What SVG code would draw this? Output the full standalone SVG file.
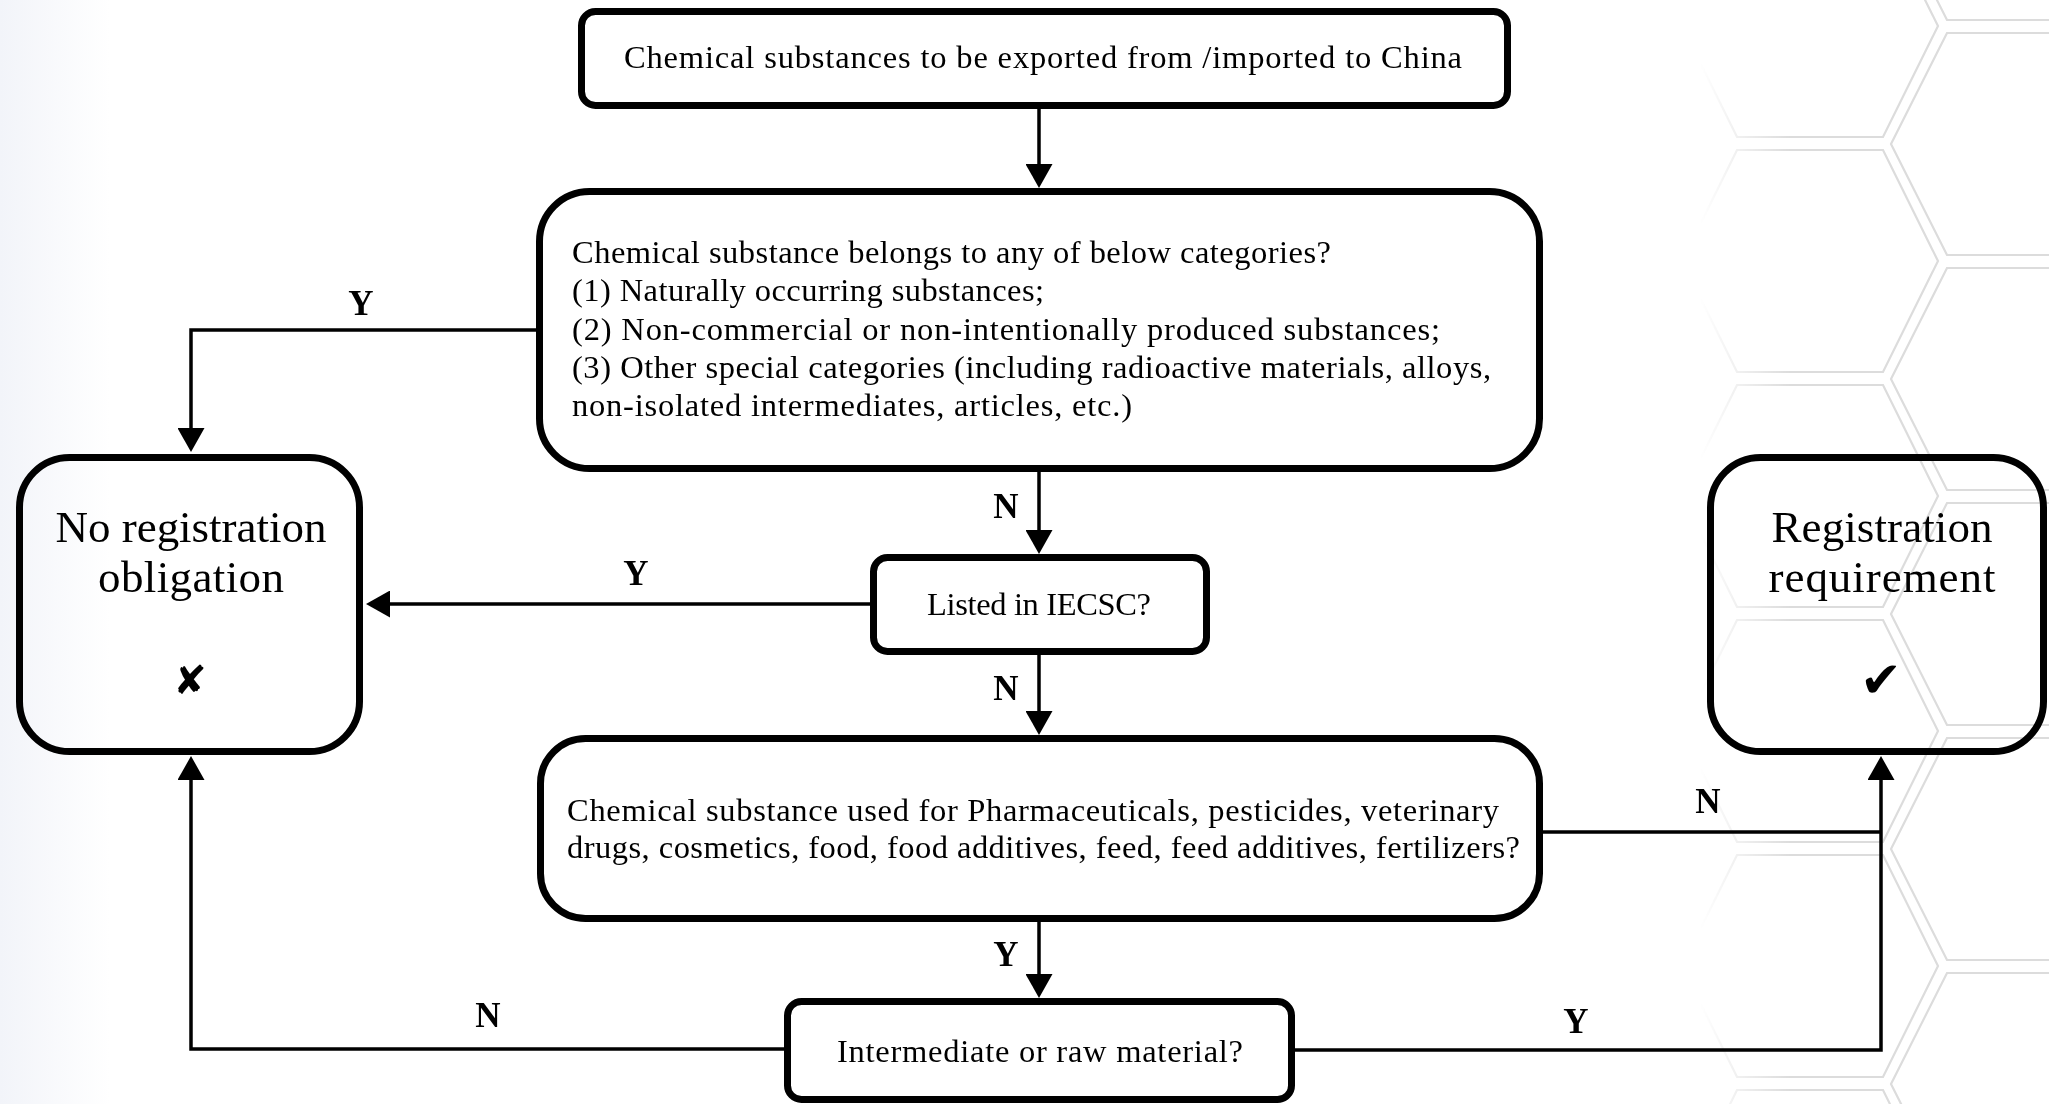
<svg xmlns="http://www.w3.org/2000/svg" width="2049" height="1104" viewBox="0 0 2049 1104">
<defs>
<style>
.box{fill:none;stroke:#000;stroke-width:7}
.t{font-family:"Liberation Serif","Times New Roman",serif;font-size:32.5px;fill:#000}
.big{font-family:"Liberation Serif","Times New Roman",serif;font-size:45px;fill:#000;text-anchor:middle}
.lbl{font-family:"Liberation Serif","Times New Roman",serif;font-size:35px;font-weight:bold;fill:#000;text-anchor:middle}
.sym{font-family:"DejaVu Sans",sans-serif;font-size:40px;fill:#000;text-anchor:middle}
.c{fill:none;stroke:#000;stroke-width:3.5}
.hex{fill:none;stroke:#dcdcdc;stroke-width:2.2}
</style>
<marker id="ah" viewBox="0 0 24 27" refX="20" refY="13.5" markerWidth="24" markerHeight="27" markerUnits="userSpaceOnUse" orient="auto">
<path d="M0,0 L24,13.5 L0,27 Z" fill="#000"/>
</marker>
<linearGradient id="lg" x1="0" y1="0" x2="1" y2="0">
<stop offset="0" stop-color="#f2f4f9"/>
<stop offset="1" stop-color="#ffffff"/>
</linearGradient>
<linearGradient id="hf" x1="1700" y1="0" x2="1790" y2="0" gradientUnits="userSpaceOnUse">
<stop offset="0" stop-color="#fff" stop-opacity="0"/>
<stop offset="1" stop-color="#fff" stop-opacity="1"/>
</linearGradient>
<mask id="hm" maskUnits="userSpaceOnUse" x="0" y="0" width="2049" height="1104">
<rect x="1600" y="0" width="449" height="1104" fill="url(#hf)"/>
</mask>
<polygon id="hA" points="1682,111 1737,0 1883,0 1938,111 1883,222 1737,222"/>
<polygon id="hB" points="1891,111 1947,0 2093,0 2148,111 2093,222 1947,222"/>
</defs>
<rect x="0" y="0" width="2049" height="1104" fill="#fff"/>
<rect x="0" y="0" width="110" height="1104" fill="url(#lg)"/>
<g id="background-hex" class="hex" mask="url(#hm)">
<use href="#hA" y="-85"/><use href="#hA" y="150"/><use href="#hA" y="385"/><use href="#hA" y="620"/><use href="#hA" y="855"/><use href="#hA" y="1090"/>
<use href="#hB" y="-202"/><use href="#hB" y="33"/><use href="#hB" y="268"/><use href="#hB" y="503"/><use href="#hB" y="738"/><use href="#hB" y="973"/>
</g>
<g id="connectors">
<path class="c" d="M1039,109 V184" marker-end="url(#ah)"/>
<path class="c" d="M1039,472 V550" marker-end="url(#ah)"/>
<path class="c" d="M1039,655 V731" marker-end="url(#ah)"/>
<path class="c" d="M1039,922 V994" marker-end="url(#ah)"/>
<path class="c" d="M537,330 H191 V448" marker-end="url(#ah)"/>
<path class="c" d="M871,604 H370" marker-end="url(#ah)"/>
<path class="c" d="M785,1049 H191 V760" marker-end="url(#ah)"/>
<path class="c" d="M1542,832 H1881"/>
<path class="c" d="M1294,1050 H1881 V760" marker-end="url(#ah)"/>
<text class="lbl" x="361" y="315">Y</text>
<text class="lbl" x="1006" y="518">N</text>
<text class="lbl" x="636" y="585">Y</text>
<text class="lbl" x="1006" y="700">N</text>
<text class="lbl" x="1006" y="966">Y</text>
<text class="lbl" x="488" y="1027">N</text>
<text class="lbl" x="1708" y="813">N</text>
<text class="lbl" x="1576" y="1033">Y</text>
</g>
<g id="start">
<rect class="box" x="581.5" y="11.5" width="926" height="94" rx="14"/>
<text class="t" x="624" y="68" textLength="838">Chemical substances to be exported from /imported to China</text>
</g>
<g id="categories">
<rect class="box" x="539.5" y="191.5" width="1000" height="277" rx="50"/>
<text class="t" x="572" y="263" textLength="759">Chemical substance belongs to any of below categories?</text>
<text class="t" x="572" y="301" textLength="472">(1) Naturally occurring substances;</text>
<text class="t" x="572" y="339.5" textLength="868">(2) Non-commercial or non-intentionally produced substances;</text>
<text class="t" x="572" y="377.5" textLength="919">(3) Other special categories (including radioactive materials, alloys,</text>
<text class="t" x="572" y="415.5" textLength="560">non-isolated intermediates, articles, etc.)</text>
</g>
<g id="iecsc">
<rect class="box" x="873.5" y="557.5" width="333" height="94" rx="14"/>
<text class="t" x="927" y="615" textLength="224">Listed in IECSC?</text>
</g>
<g id="usage">
<rect class="box" x="540.5" y="738.5" width="999" height="180" rx="45"/>
<text class="t" x="567" y="821" textLength="932">Chemical substance used for Pharmaceuticals, pesticides, veterinary</text>
<text class="t" x="567" y="858" textLength="953">drugs, cosmetics, food, food additives, feed, feed additives, fertilizers?</text>
</g>
<g id="intermediate">
<rect class="box" x="787.5" y="1001.5" width="504" height="98" rx="14"/>
<text class="t" x="837" y="1062" textLength="406">Intermediate or raw material?</text>
</g>
<g id="no-registration">
<rect class="box" x="19.5" y="457.5" width="340" height="294" rx="50"/>
<text class="big" x="191" y="542" textLength="271">No registration</text>
<text class="big" x="191" y="592" textLength="186">obligation</text>
<text class="sym" x="190" y="694">✘</text>
</g>
<g id="registration">
<rect class="box" x="1710.5" y="457.5" width="333" height="294" rx="50"/>
<text class="big" x="1882" y="542" textLength="221">Registration</text>
<text class="big" x="1882" y="592" textLength="227">requirement</text>
<text class="sym" x="1881" y="697" style="font-size:50px">✔</text>
</g>
</svg>
